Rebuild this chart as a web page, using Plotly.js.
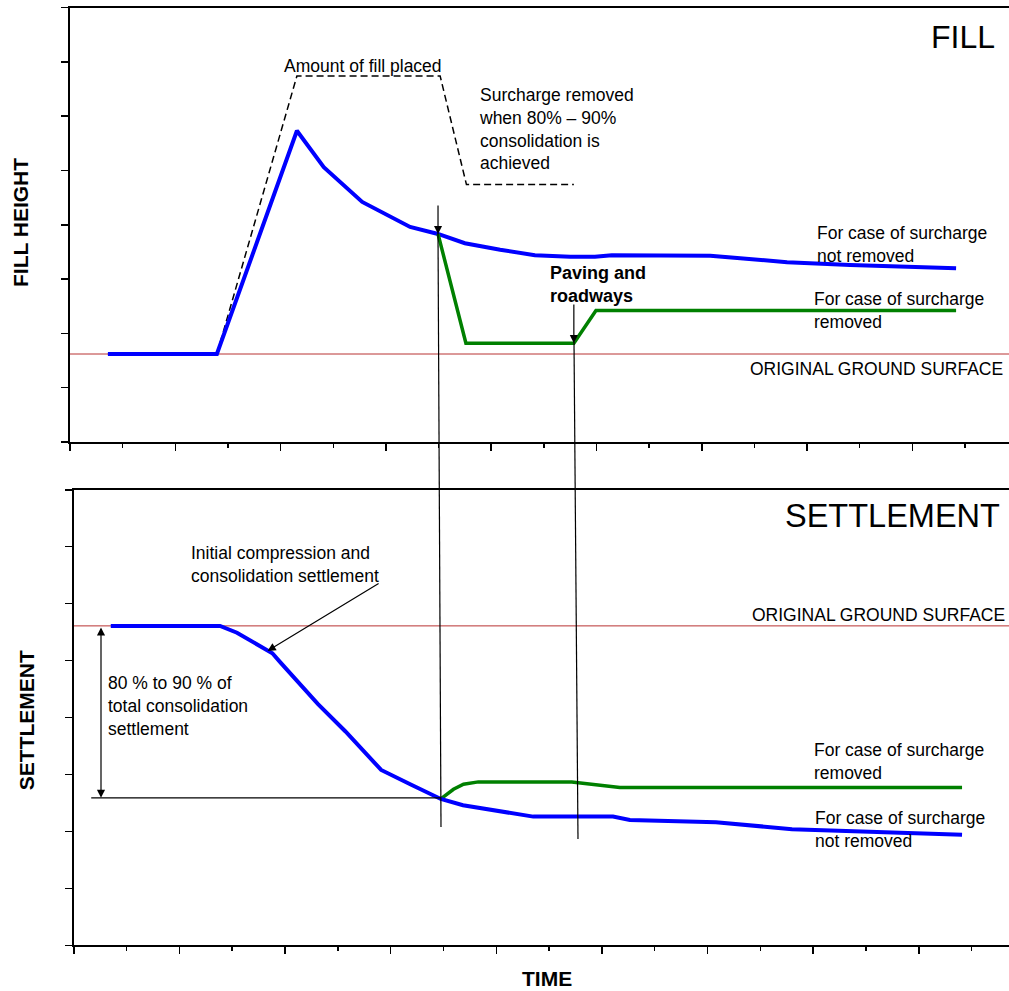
<!DOCTYPE html>
<html>
<head>
<meta charset="utf-8">
<script src="https://cdn.plot.ly/plotly-3.0.1.min.js"></script>
<style>
html,body{margin:0;padding:0;background:#ffffff;}
#chart{width:1009px;height:991px;}
</style>
</head>
<body>
<div id="chart"></div>
<script>
// ---------------- DATA (time and heights in axis tick units) ----------------
// FILL panel
const fillTime        = [0.72, 2.79, 4.31, 4.82, 5.55, 5.98, 6.46, 6.99, 7.50, 8.17, 8.83, 9.50, 9.97, 10.29, 12.16, 13.62, 14.82, 16.83];
const fillNotRemoved  = [1.62, 1.62, 5.73, 5.06, 4.42, 4.20, 3.96, 3.83, 3.66, 3.54, 3.44, 3.41, 3.41, 3.44, 3.43, 3.31, 3.26, 3.20];
const fillRemovedTime = [6.99, 7.52, 9.57, 9.99, 16.83];
const fillRemoved     = [3.83, 1.82, 1.82, 2.42, 2.42];
const fillPlacedTime  = [0.72, 2.79, 4.31, 7.03, 7.53, 9.57];
const fillPlaced      = [1.62, 1.62, 6.74, 6.74, 4.74, 4.74];
const groundFill      = 1.62;
const fillSpan        = [0, 17.84];

// SETTLEMENT panel
const settleTime        = [0.70, 2.77, 3.09, 3.37, 3.76, 3.92, 4.62, 5.14, 5.82, 6.39, 6.75, 6.95, 7.37, 8.13, 8.70, 10.21, 10.53, 12.16, 13.60, 16.82];
const settleNotRemoved  = [5.61, 5.61, 5.49, 5.34, 5.13, 4.96, 4.24, 3.76, 3.08, 2.82, 2.66, 2.57, 2.46, 2.35, 2.26, 2.26, 2.20, 2.16, 2.04, 1.94];
const settleRemovedTime = [6.95, 7.19, 7.38, 7.66, 9.43, 9.84, 10.34, 16.82];
const settleRemoved     = [2.57, 2.74, 2.83, 2.87, 2.87, 2.82, 2.77, 2.77];
const groundSettle      = 5.61;
const settleSpan        = [0, 17.71];

// ---------------- LAYOUT HELPERS ----------------
const W = 1009, H = 991;
const X = p => p / W;
const Y = p => 1 - p / H;
const FONT = 'Liberation Sans, Arial, Helvetica, sans-serif';
const BLUE = '#0000ff', GREEN = '#008000', RED = '#b83232';

const traces = [
  // FILL panel
  {x: fillSpan, y: [groundFill, groundFill], xaxis: 'x', yaxis: 'y', mode: 'lines',
   line: {color: RED, width: 1}, hoverinfo: 'skip'},
  {x: fillPlacedTime, y: fillPlaced, xaxis: 'x', yaxis: 'y', mode: 'lines',
   line: {color: '#000', width: 1.5, dash: '7px,4px'}, name: 'Amount of fill placed'},
  {x: fillTime, y: fillNotRemoved, xaxis: 'x', yaxis: 'y', mode: 'lines',
   line: {color: BLUE, width: 4}, name: 'Surcharge not removed'},
  {x: fillRemovedTime, y: fillRemoved, xaxis: 'x', yaxis: 'y', mode: 'lines',
   line: {color: GREEN, width: 3.5}, name: 'Surcharge removed'},
  // SETTLEMENT panel
  {x: settleSpan, y: [groundSettle, groundSettle], xaxis: 'x2', yaxis: 'y2', mode: 'lines',
   line: {color: RED, width: 1}, hoverinfo: 'skip'},
  {x: settleRemovedTime, y: settleRemoved, xaxis: 'x2', yaxis: 'y2', mode: 'lines',
   line: {color: GREEN, width: 3.5}, name: 'Surcharge removed'},
  {x: settleTime, y: settleNotRemoved, xaxis: 'x2', yaxis: 'y2', mode: 'lines',
   line: {color: BLUE, width: 4}, name: 'Surcharge not removed'}
];

function xAxis(domain, range, anchor) {
  return {
    domain: domain, range: range, anchor: anchor,
    showline: true, linewidth: 2, linecolor: '#000', mirror: true,
    ticks: 'outside', tick0: 0, dtick: 2, ticklen: 7, tickwidth: 1.5, tickcolor: '#000',
    minor: {dtick: 1, tick0: 0, ticks: 'outside', ticklen: 4, tickwidth: 1.5, tickcolor: '#000', showgrid: false},
    showticklabels: false, showgrid: false, zeroline: false, fixedrange: true
  };
}
function yAxis(domain, anchor) {
  return {
    domain: domain, range: [0, 8], anchor: anchor,
    showline: true, linewidth: 2, linecolor: '#000',
    ticks: 'outside', tick0: 0, dtick: 1, ticklen: 7, tickwidth: 1.5, tickcolor: '#000',
    showticklabels: false, showgrid: false, zeroline: false, fixedrange: true
  };
}

function txt(text, xp, yp, opts) {
  return Object.assign({
    xref: 'paper', yref: 'paper', x: X(xp), y: Y(yp), text: text, showarrow: false,
    xanchor: 'left', yanchor: 'middle', align: 'left',
    font: {family: FONT, size: 17.5, color: '#000'}
  }, opts || {});
}
function arrow(xr, yr, x, y, ax, ay, extra) {
  return Object.assign({
    xref: xr, yref: yr, axref: xr, ayref: yr, x: x, y: y, ax: ax, ay: ay,
    text: '', showarrow: true, arrowhead: 2, arrowsize: 1.35, arrowwidth: 1.2,
    arrowcolor: '#000', standoff: 0, startstandoff: 0
  }, extra || {});
}

const annotations = [
  // FILL panel texts
  txt('FILL', 997, 36.5, {xanchor: 'right', font: {family: FONT, size: 32, color: '#000'}}),
  txt('Amount of fill placed', 282, 65.8),
  txt('Surcharge removed<br>when 80% – 90%<br>consolidation is<br>achieved', 477, 128.8),
  txt('<b>Paving and<br>roadways</b>', 548, 284, {font: {family: FONT, size: 18, color: '#000'}}),
  txt('For case of surcharge<br>not removed', 815, 244.5),
  txt('For case of surcharge<br>removed', 812, 310.5),
  txt('ORIGINAL GROUND SURFACE', 1005, 368.8, {xanchor: 'right'}),
  // SETTLEMENT panel texts
  txt('SETTLEMENT', 1002, 515.9, {xanchor: 'right', font: {family: FONT, size: 32.5, color: '#000'}}),
  txt('ORIGINAL GROUND SURFACE', 1007, 614.8, {xanchor: 'right'}),
  txt('Initial compression and<br>consolidation settlement', 189, 564),
  txt('80 % to 90 % of<br>total consolidation<br>settlement', 106, 706),
  txt('For case of surcharge<br>removed', 812, 761.5),
  txt('For case of surcharge<br>not removed', 813, 829.7),
  // axis titles
  txt('<b>TIME</b>', 546.7, 978, {xanchor: 'center', font: {family: FONT, size: 21, color: '#000'}}),
  txt('<b>FILL HEIGHT</b>', 20.5, 222.5, {xanchor: 'center', textangle: -90, font: {family: FONT, size: 21, color: '#000'}}),
  txt('<b>SETTLEMENT</b>', 26.2, 720, {xanchor: 'center', textangle: -90, font: {family: FONT, size: 21, color: '#000'}}),
  // arrows
  arrow('x', 'y', fillTime[7], fillNotRemoved[7], fillTime[7], 4.38),
  arrow('x', 'y', fillRemovedTime[2], fillRemoved[2], fillRemovedTime[2], 2.56),
  arrow('x2', 'y2', 3.67, 5.17, 5.80, 6.37),
  arrow('x2', 'y2', 0.515, 2.59, 0.515, groundSettle, {arrowside: 'end+start', startarrowhead: 2, startarrowsize: 1.35})
];

const shapes = [
  // long vertical guide lines crossing both panels
  {type: 'line', xref: 'paper', yref: 'paper', x0: X(438), y0: Y(233), x1: X(441), y1: Y(827),
   line: {color: '#000', width: 1.2}},
  {type: 'line', xref: 'paper', yref: 'paper', x0: X(574), y0: Y(342), x1: X(578), y1: Y(839),
   line: {color: '#000', width: 1.2}},
  // 80-90% reference line
  {type: 'line', xref: 'x2', yref: 'y2', x0: 0.33, y0: 2.59, x1: settleTime[11], y1: 2.59,
   line: {color: '#000', width: 1.2}}
];

const layout = {
  width: W, height: H,
  margin: {l: 0, r: 0, t: 0, b: 0, pad: 0},
  paper_bgcolor: '#ffffff', plot_bgcolor: 'rgba(0,0,0,0)',
  showlegend: false,
  font: {family: FONT, size: 17.5, color: '#000'},
  xaxis: xAxis([X(70), 1], [0, 17.835], 'y'),
  yaxis: yAxis([Y(442), Y(7.5)], 'x'),
  xaxis2: xAxis([X(73.8), 1], [0, 17.709], 'y2'),
  yaxis2: yAxis([Y(945.3), Y(489.8)], 'x2'),
  annotations: annotations,
  shapes: shapes
};

Plotly.newPlot('chart', traces, layout, {displayModeBar: false, staticPlot: true});
</script>
</body>
</html>
